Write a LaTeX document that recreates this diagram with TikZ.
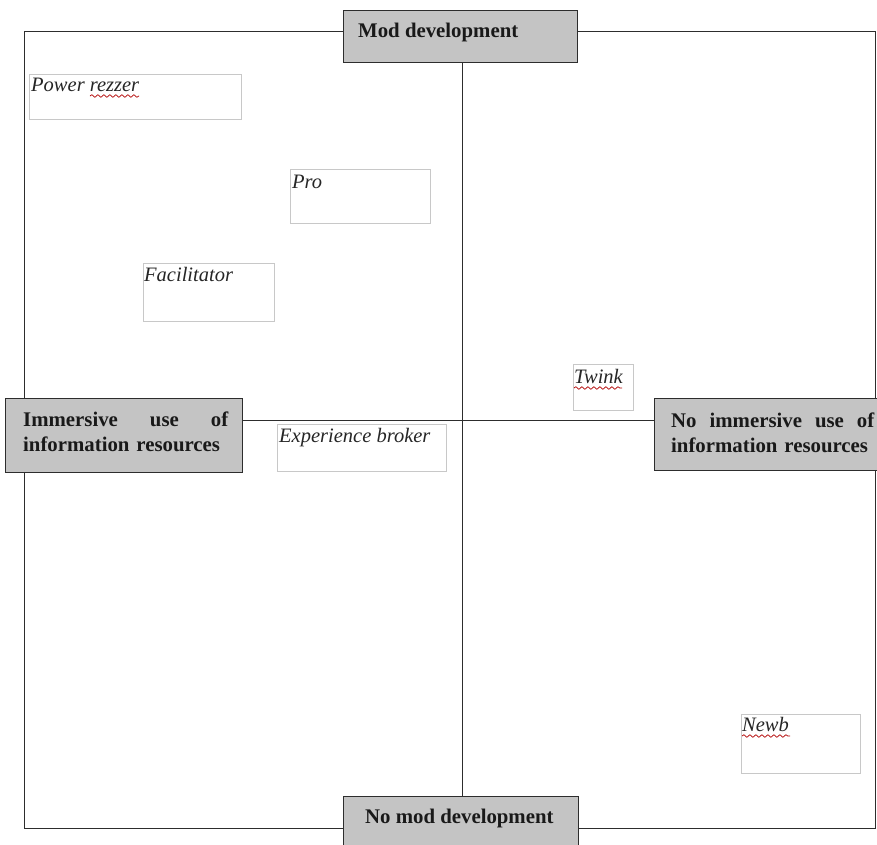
\documentclass[tikz,border=0pt]{standalone}
\usepackage{fontspec}
\setmainfont{Liberation Serif}
\usetikzlibrary{decorations.pathmorphing}
\definecolor{boxgrey}{RGB}{196,196,196}
\definecolor{frameline}{RGB}{45,45,45}
\definecolor{lightedge}{RGB}{200,200,200}
\begin{document}
\begin{tikzpicture}[x=1pt,y=1pt,
  axisbox/.style={draw=frameline, fill=boxgrey, line width=1.4pt, inner sep=0pt, anchor=north west},
  axistext/.style={inner sep=0pt, anchor=base west, font=\fontsize{20.8}{25}\selectfont\bfseries, text=black!90},
  lbox/.style={draw=lightedge, line width=1pt, inner sep=0pt, anchor=north west},
  ltext/.style={inner sep=0pt, anchor=base west, font=\fontsize{20.5}{24}\selectfont\itshape, text=black!85},
  frame/.style={draw=frameline, line width=1pt},
  squiggle/.style={draw=red!70!black, line width=0.7pt, decorate, decoration={snake, amplitude=1.3pt, segment length=6pt}}
]
\useasboundingbox (0,0) rectangle (877,-844);
\fill[white] (0,0) rectangle (877,-844);

% frame and axes coordinates
\coordinate (tl) at (24,-31);
\coordinate (br) at (875,-828);
\coordinate (vtop) at (462,-31);
\coordinate (vbot) at (462,-828);
\coordinate (hleft) at (24,-420);
\coordinate (hright) at (875,-420);
\draw[frame] (tl) rectangle (br);
\draw[frame] (vtop) -- (vbot);
\draw[frame] (hleft) -- (hright);

% grey axis boxes
\node[axisbox, minimum width=234pt, minimum height=52pt] (top) at (343,-10) {};
\node[axistext] (toptext) at (358,-37) {Mod development};

\node[axisbox, minimum width=237pt, minimum height=74pt] (left) at (5,-398) {};
\node[axistext, text width=205pt, align=left] (lefttext) at (23,-426)
  {\hbox to 205pt{Immersive\hfill use\hfill of}\\information resources};

\node[axisbox, minimum width=236pt, minimum height=72pt] (right) at (654,-398) {};
\node[axistext, text width=203pt, align=left] (righttext) at (671,-427)
  {\hbox to 203pt{No\hfill immersive\hfill use\hfill of}\\information resources};

\node[axisbox, minimum width=235pt, minimum height=60pt] (bottom) at (343,-796) {};
\node[axistext] (bottomtext) at (365,-823) {No mod development};

% role boxes
\node[lbox, minimum width=212pt, minimum height=45pt] (power) at (29,-74) {};
\node[ltext] (powertext) at (31,-91) {Power rezzer};
\draw[squiggle] (90,-96) -- (139,-96);

\node[lbox, minimum width=140pt, minimum height=54pt] (pro) at (290,-169) {};
\node[ltext] (protext) at (292,-188) {Pro};

\node[lbox, minimum width=131pt, minimum height=58pt] (facil) at (143,-263) {};
\node[ltext] (faciltext) at (144,-281) {Facilitator};

\node[lbox, minimum width=60pt, minimum height=46pt] (twink) at (573,-364) {};
\node[ltext] (twinktext) at (574,-383) {Twink};
\draw[squiggle] (574,-388) -- (622,-388);

\node[lbox, minimum width=169pt, minimum height=47pt] (exp) at (277,-424) {};
\node[ltext] (exptext) at (279,-442) {Experience broker};

\node[lbox, minimum width=119pt, minimum height=59pt] (newb) at (741,-714) {};
\node[ltext] (newbtext) at (742,-731) {Newb};
\draw[squiggle] (742,-736) -- (790,-736);
\end{tikzpicture}
\end{document}
